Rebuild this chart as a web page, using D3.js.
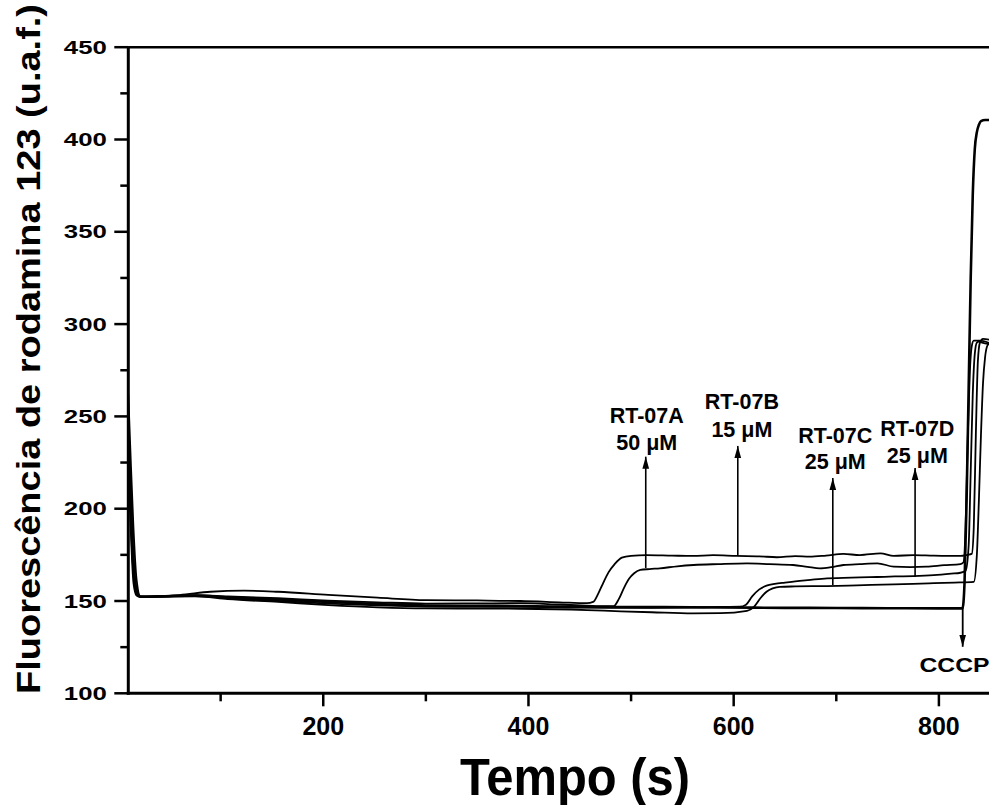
<!DOCTYPE html>
<html>
<head>
<meta charset="utf-8">
<script src="https://cdn.jsdelivr.net/npm/d3@7"></script>
<style>
  html, body { margin: 0; padding: 0; background: #fff; }
  svg { display: block; }
  text { font-family: "Liberation Sans", Arial, sans-serif; font-weight: bold; fill: #000; }
</style>
</head>
<body>
<svg id="chart" width="989" height="805"></svg>
<script>
// ---------------- DATA ----------------
const xMajorTicks = [200, 400, 600, 800];
const xMinorTicks = [100, 300, 500, 700];
const yMajorTicks = [100, 150, 200, 250, 300, 350, 400, 450];
const yMinorTicks = [125, 175, 225, 275, 325, 375, 425];

const tA = [10, 12, 15, 18, 22, 40, 60, 90, 123, 156, 205, 253, 300, 350, 392, 430, 457, 463, 468, 473, 478, 484, 491, 500, 515, 540, 560, 580, 603, 625, 642, 660, 674, 690, 707, 723, 743, 756, 775, 795, 821, 828, 832, 834, 836, 838, 840, 843, 850];
const vA = [262, 232, 190, 162, 152.3, 152.6, 153.2, 155, 155.6, 155, 153.3, 151.8, 150.5, 150.3, 150, 149.3, 148.8, 149.5, 154, 160, 165.5, 170, 173.5, 174.5, 174.9, 174.6, 174.4, 174.8, 174.4, 174.2, 173.7, 174.3, 174, 174.6, 175.5, 174.9, 175.8, 174.4, 174.9, 174.6, 174.4, 175, 175.5, 190, 240, 280, 290, 292, 291.5];

const tB = [10, 12, 15, 18, 22, 40, 75, 107, 156, 205, 253, 300, 350, 392, 430, 457, 475, 483, 488, 493, 498, 503, 509, 518, 528, 545, 561, 585, 613, 635, 658, 672, 684, 695, 707, 723, 740, 756, 772, 788, 805, 821, 824, 826, 828, 830, 832, 834, 840, 850];
const vB = [250, 215, 175, 157, 152.5, 152.6, 153.2, 152.5, 151.5, 150.2, 149.3, 148.6, 148.7, 148.8, 148.1, 147.5, 147.2, 147.2, 151, 157, 162, 165, 166.8, 167.3, 167.7, 168.8, 169.5, 170, 170.4, 170, 169.5, 168.5, 167.7, 168.3, 169.5, 170, 170.4, 168.6, 168.4, 168.6, 169.4, 170, 171, 190, 235, 272, 288, 291, 291, 289.5];

const tC = [10, 12, 15, 18, 22, 40, 75, 107, 156, 205, 253, 300, 350, 392, 457, 490, 520, 560, 587, 613, 620, 626, 632, 638, 645, 660, 691, 720, 756, 790, 815, 834, 837, 839, 841, 843, 845, 847, 850];
const vC = [230, 195, 160, 153, 152.2, 152.3, 152.5, 151, 149.5, 147.8, 146.6, 146, 145.9, 145.8, 145.1, 144.4, 143.9, 143.3, 143.4, 144.7, 147, 151.5, 155, 156.8, 157.7, 157.9, 158.1, 158.5, 159, 159.6, 160, 160.4, 175, 205, 240, 268, 282, 288, 290];

const tD = [10, 12, 15, 18, 22, 40, 75, 107, 156, 205, 253, 300, 350, 392, 457, 520, 560, 587, 606, 612, 618, 625, 632, 640, 650, 660, 675, 691, 707, 723, 740, 757, 775, 795, 812, 821, 826, 829, 831, 833, 835, 837, 839, 842, 850];
const vD = [238, 200, 165, 154, 152.3, 152.4, 152.8, 151.5, 150, 148.6, 147.6, 147, 146.8, 146.8, 146.4, 146.3, 146.5, 146.8, 146.9, 148, 152.5, 156.3, 158.3, 159.3, 160, 160.6, 161.5, 162.3, 162.5, 162.8, 163, 163.3, 163.5, 164, 164.8, 165.3, 166.4, 180, 220, 262, 284, 290, 290.5, 290, 289];

const tControl = [10, 12, 15, 18, 22, 40, 75, 107, 156, 205, 253, 300, 350, 392, 457, 520, 587, 650, 700, 750, 800, 823, 825, 827, 829, 831, 833, 835, 837, 839, 841, 845, 850];
const vControl = [245, 210, 170, 155, 152.3, 152.5, 153, 152, 150.8, 149.5, 148.3, 147.6, 147.4, 147.3, 146.8, 146.7, 146.5, 146.3, 146.2, 146.1, 146, 146, 160, 205, 265, 325, 370, 395, 404, 408, 410, 410.6, 410.6];

// annotations (data units): label lines, label x/y, arrow base & tip
const annLabels1 = ["RT-07A", "RT-07B", "RT-07C", "RT-07D"];
const annLabels2 = ["50 \u03bcM", "15 \u03bcM", "25 \u03bcM", "25 \u03bcM"];
const annLabelT = [515.3, 608, 699, 779];
const annLabel1V = [246.6, 253.8, 235.7, 239.4];
const annLabel2V = [231.8, 239.0, 221.4, 224.6];
const arrowT = [514.3, 604, 696.6, 776.8];
const arrowBaseV = [167.9, 174.9, 158.7, 163.0];
const arrowTipV = [228.2, 234.0, 216.6, 222.0];

const cccpT = 823.2, cccpBaseV = 146.5, cccpTipV = 125.2, cccpLabelV = 111.8, cccpLabelT = 823;

// ---------------- CHART ----------------
const svg = d3.select("#chart");
svg.append("rect").attr("width", 989).attr("height", 805).attr("fill", "#fff");

const x = d3.scaleLinear().domain([10, 850]).range([128.3, 990.2]);
const y = d3.scaleLinear().domain([100, 450]).range([693.3, 47.2]);

const plotL = x(10), plotR = x(850), plotT = y(450), plotB = y(100);

// curves
const series = [
  {t: tA, v: vA, w: 1.8},
  {t: tB, v: vB, w: 1.8},
  {t: tC, v: vC, w: 1.8},
  {t: tD, v: vD, w: 1.8},
  {t: tControl, v: vControl, w: 2.6}
];
const line = d3.line().x(d => x(d[0])).y(d => y(d[1])).curve(d3.curveMonotoneX);
svg.append("clipPath").attr("id", "clip").append("rect")
  .attr("x", plotL).attr("y", plotT).attr("width", plotR - plotL).attr("height", plotB - plotT);
const g = svg.append("g").attr("clip-path", "url(#clip)");
series.forEach(s => {
  g.append("path")
    .attr("d", line(s.t.map((t, i) => [t, s.v[i]])))
    .attr("fill", "none").attr("stroke", "#000").attr("stroke-width", s.w)
    .attr("stroke-linejoin", "round");
});

// arrowhead marker
const defs = svg.append("defs");
defs.append("marker").attr("id", "arr").attr("viewBox", "0 0 10 10")
  .attr("refX", 10).attr("refY", 5).attr("markerWidth", 12).attr("markerHeight", 12)
  .attr("markerUnits", "userSpaceOnUse").attr("orient", "auto")
  .append("path").attr("d", "M0,2.2 L10,5 L0,7.8 Z").attr("fill", "#000");

annLabels1.forEach((lab, i) => {
  svg.append("line")
    .attr("x1", x(arrowT[i])).attr("x2", x(arrowT[i]))
    .attr("y1", y(arrowBaseV[i])).attr("y2", y(arrowTipV[i]))
    .attr("stroke", "#000").attr("stroke-width", 1.6).attr("marker-end", "url(#arr)");
  svg.append("text").attr("x", x(annLabelT[i])).attr("y", y(annLabel1V[i]))
    .attr("text-anchor", "middle").attr("font-size", 21.5).text(lab);
  svg.append("text").attr("x", x(annLabelT[i])).attr("y", y(annLabel2V[i]))
    .attr("text-anchor", "middle").attr("font-size", 21.5).text(annLabels2[i]);
});

// CCCP arrow
svg.append("line")
  .attr("x1", x(cccpT)).attr("x2", x(cccpT))
  .attr("y1", y(cccpBaseV)).attr("y2", y(cccpTipV))
  .attr("stroke", "#000").attr("stroke-width", 1.8).attr("marker-end", "url(#arr)");
svg.append("text").attr("x", x(cccpLabelT) - 8).attr("y", y(cccpLabelV))
  .attr("text-anchor", "middle").attr("font-size", 21)
  .attr("textLength", 70).attr("lengthAdjust", "spacingAndGlyphs").text("CCCP");

// axes lines
svg.append("line").attr("x1", plotL).attr("x2", plotL).attr("y1", plotT - 1).attr("y2", plotB + 1.5)
  .attr("stroke", "#000").attr("stroke-width", 3);
svg.append("line").attr("x1", plotL - 1.5).attr("x2", 989).attr("y1", plotB).attr("y2", plotB)
  .attr("stroke", "#000").attr("stroke-width", 3);
svg.append("line").attr("x1", plotL).attr("x2", 989).attr("y1", plotT).attr("y2", plotT)
  .attr("stroke", "#000").attr("stroke-width", 2.6);

// x ticks
const xAxis = svg.append("g");
xMajorTicks.forEach(v => {
  xAxis.append("line").attr("x1", x(v)).attr("x2", x(v)).attr("y1", plotB).attr("y2", plotB + 13)
    .attr("stroke", "#000").attr("stroke-width", 2.5);
  xAxis.append("text").attr("x", x(v)).attr("y", plotB + 42).attr("text-anchor", "middle")
    .attr("font-size", 25).text(v);
});
xMinorTicks.forEach(v => {
  xAxis.append("line").attr("x1", x(v)).attr("x2", x(v)).attr("y1", plotB).attr("y2", plotB + 8)
    .attr("stroke", "#000").attr("stroke-width", 2.5);
});

// y ticks
const yAxis = svg.append("g");
yMajorTicks.forEach(v => {
  yAxis.append("line").attr("x1", plotL - 14).attr("x2", plotL).attr("y1", y(v)).attr("y2", y(v))
    .attr("stroke", "#000").attr("stroke-width", 2.5);
  yAxis.append("text").attr("x", plotL - 21.5).attr("y", y(v) + 6.5).attr("text-anchor", "end")
    .attr("font-size", 19).attr("textLength", 43).attr("lengthAdjust", "spacingAndGlyphs").text(v);
});
yMinorTicks.forEach(v => {
  yAxis.append("line").attr("x1", plotL - 8).attr("x2", plotL).attr("y1", y(v)).attr("y2", y(v))
    .attr("stroke", "#000").attr("stroke-width", 2.5);
});

// axis titles
svg.append("text").attr("x", 575).attr("y", 795).attr("text-anchor", "middle")
  .attr("font-size", 51).attr("textLength", 230).attr("lengthAdjust", "spacingAndGlyphs")
  .text("Tempo (s)");
svg.append("text").attr("transform", "translate(40,349) rotate(-90)")
  .attr("text-anchor", "middle").attr("font-size", 34)
  .attr("textLength", 690).attr("lengthAdjust", "spacingAndGlyphs")
  .text("Fluorescência de rodamina 123 (u.a.f.)");
</script>
</body>
</html>
